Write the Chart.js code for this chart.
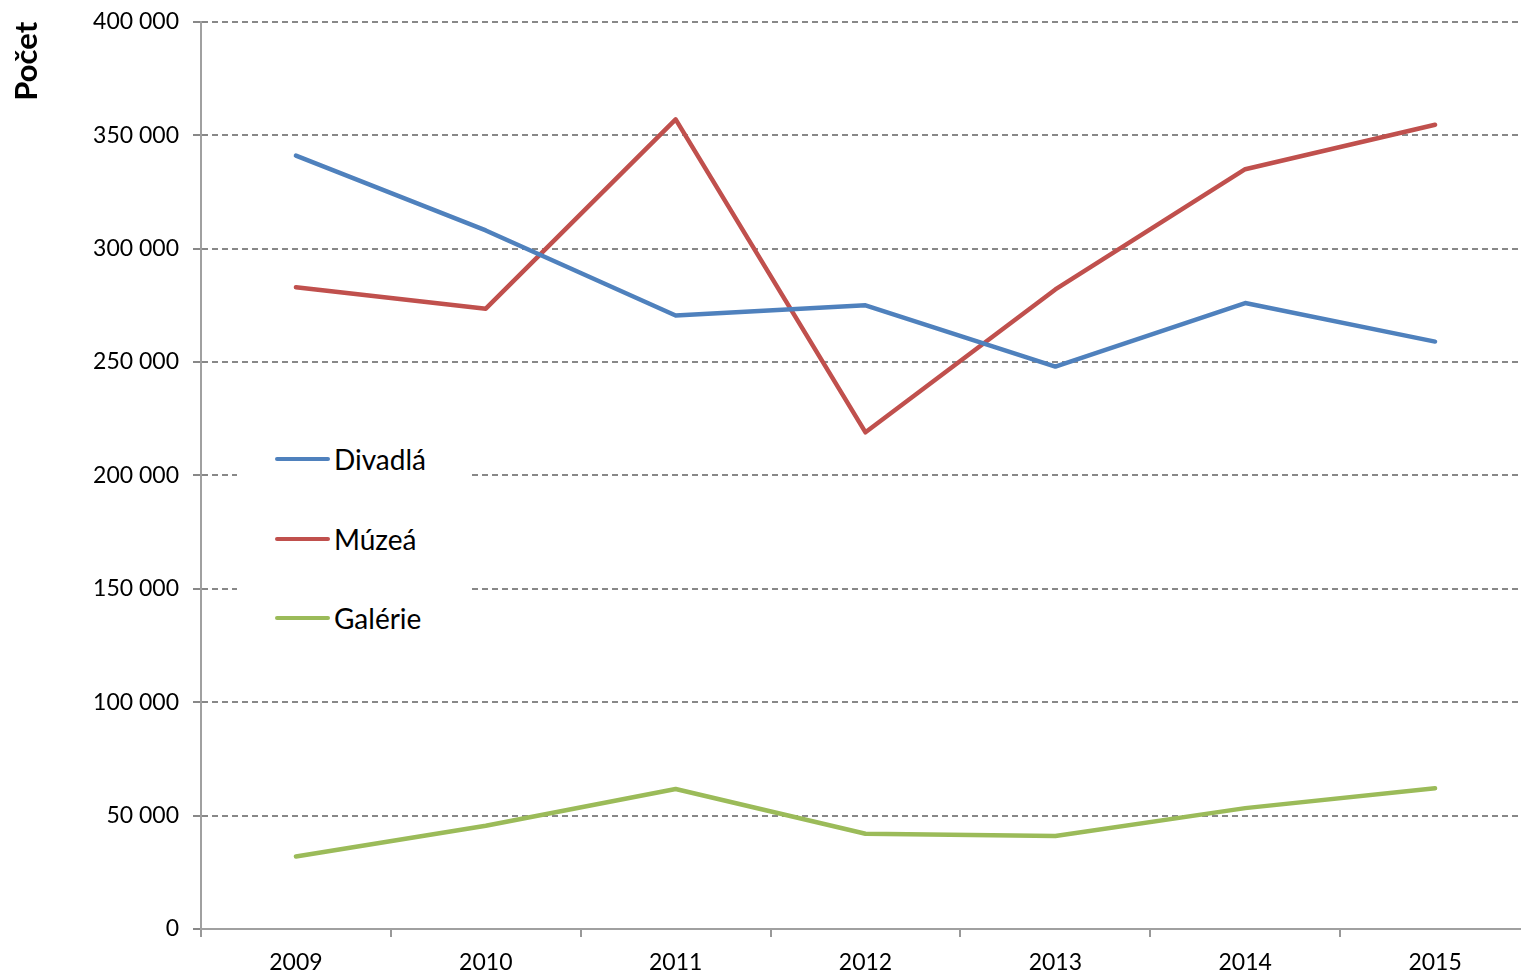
<!DOCTYPE html>
<html>
<head>
<meta charset="utf-8">
<script src="https://cdn.jsdelivr.net/npm/chart.js@4"></script>
<style>
  html, body { margin: 0; padding: 0; background: #fff; overflow: hidden; }
  #wrap { position: relative; width: 1530px; height: 976px; overflow: hidden; }
  #chart { position: absolute; left: 0; top: -6px; }
  #legend {
    position: absolute; left: 237px; top: 440px; width: 233px; height: 200px;
    background: #fff; font-family: Lato, "Open Sans", sans-serif; font-size: 28px; color: #000;
  }
  .item { position: absolute; left: 38px; height: 34px; display: flex; align-items: center; }
  .item i { display: inline-block; width: 55px; height: 4px; border-radius: 2px; margin-right: 4px; }
</style>
</head>
<body>
<div id="wrap">
  <canvas id="chart" width="1530" height="982"></canvas>
  <div id="legend"></div>
</div>
<script>
// data
const years = ['2009', '2010', '2011', '2012', '2013', '2014', '2015'];
const divadla = [341000, 308000, 270500, 275000, 248000, 276000, 259000];
const muzea = [283000, 273500, 357000, 219000, 282000, 335000, 354600];
const galerie = [32000, 45500, 61700, 42000, 41000, 53300, 62100];
const seriesNames = ['Divadlá', 'Múzeá', 'Galérie'];
const seriesColors = ['#4F81BD', '#C0504D', '#9BBB59'];

const FONT = 'Lato, "Open Sans", sans-serif';

function line(label, data, color) {
  return {
    label: label,
    data: data,
    borderColor: color,
    backgroundColor: color,
    borderWidth: 4.5,
    pointRadius: 0,
    tension: 0,
    borderCapStyle: 'round',
    borderJoinStyle: 'round'
  };
}

new Chart(document.getElementById('chart'), {
  type: 'line',
  data: {
    labels: years,
    datasets: [
      line(seriesNames[0], divadla, seriesColors[0]),
      line(seriesNames[1], muzea, seriesColors[1]),
      line(seriesNames[2], galerie, seriesColors[2])
    ]
  },
  options: {
    responsive: false,
    animation: false,
    layout: { padding: { left: 8, top: 7, right: 0, bottom: 0 } },
    plugins: { legend: { display: false }, tooltip: { enabled: false } },
    scales: {
      x: {
        offset: true,
        grid: { offset: true, drawOnChartArea: false, color: '#999', tickLength: 8, lineWidth: 2 },
        border: { color: '#a0a0a0', width: 2 },
        ticks: { font: { family: FONT, size: 23 }, color: '#000', padding: 12 },
        afterFit: function(s) { s.height = 47; }
      },
      y: {
        min: 0,
        max: 400000,
        ticks: {
          stepSize: 50000,
          font: { family: FONT, size: 23 },
          color: '#000',
          padding: 14,
          callback: function(v) { return v === 0 ? '0' : (v / 1000) + ' 000'; }
        },
        grid: { color: '#888', lineWidth: 2, tickLength: 8 },
        border: { color: '#a0a0a0', width: 2, dash: [6, 4] },
        title: {
          display: true,
          text: 'Počet',
          align: 'end',
          font: { family: FONT, size: 31, weight: 'bold' },
          color: '#000',
          padding: { top: 0, bottom: 20 }
        },
        afterFit: function(s) { s.width = 193; }
      }
    }
  }
});

// legend overlay
const legend = document.getElementById('legend');
const rowTops = [2, 82, 161];
seriesNames.forEach(function(name, i) {
  const el = document.createElement('div');
  el.className = 'item';
  el.style.top = rowTops[i] + 'px';
  el.innerHTML = '<i style="background:' + seriesColors[i] + '"></i>' + name;
  legend.appendChild(el);
});
</script>
</body>
</html>
